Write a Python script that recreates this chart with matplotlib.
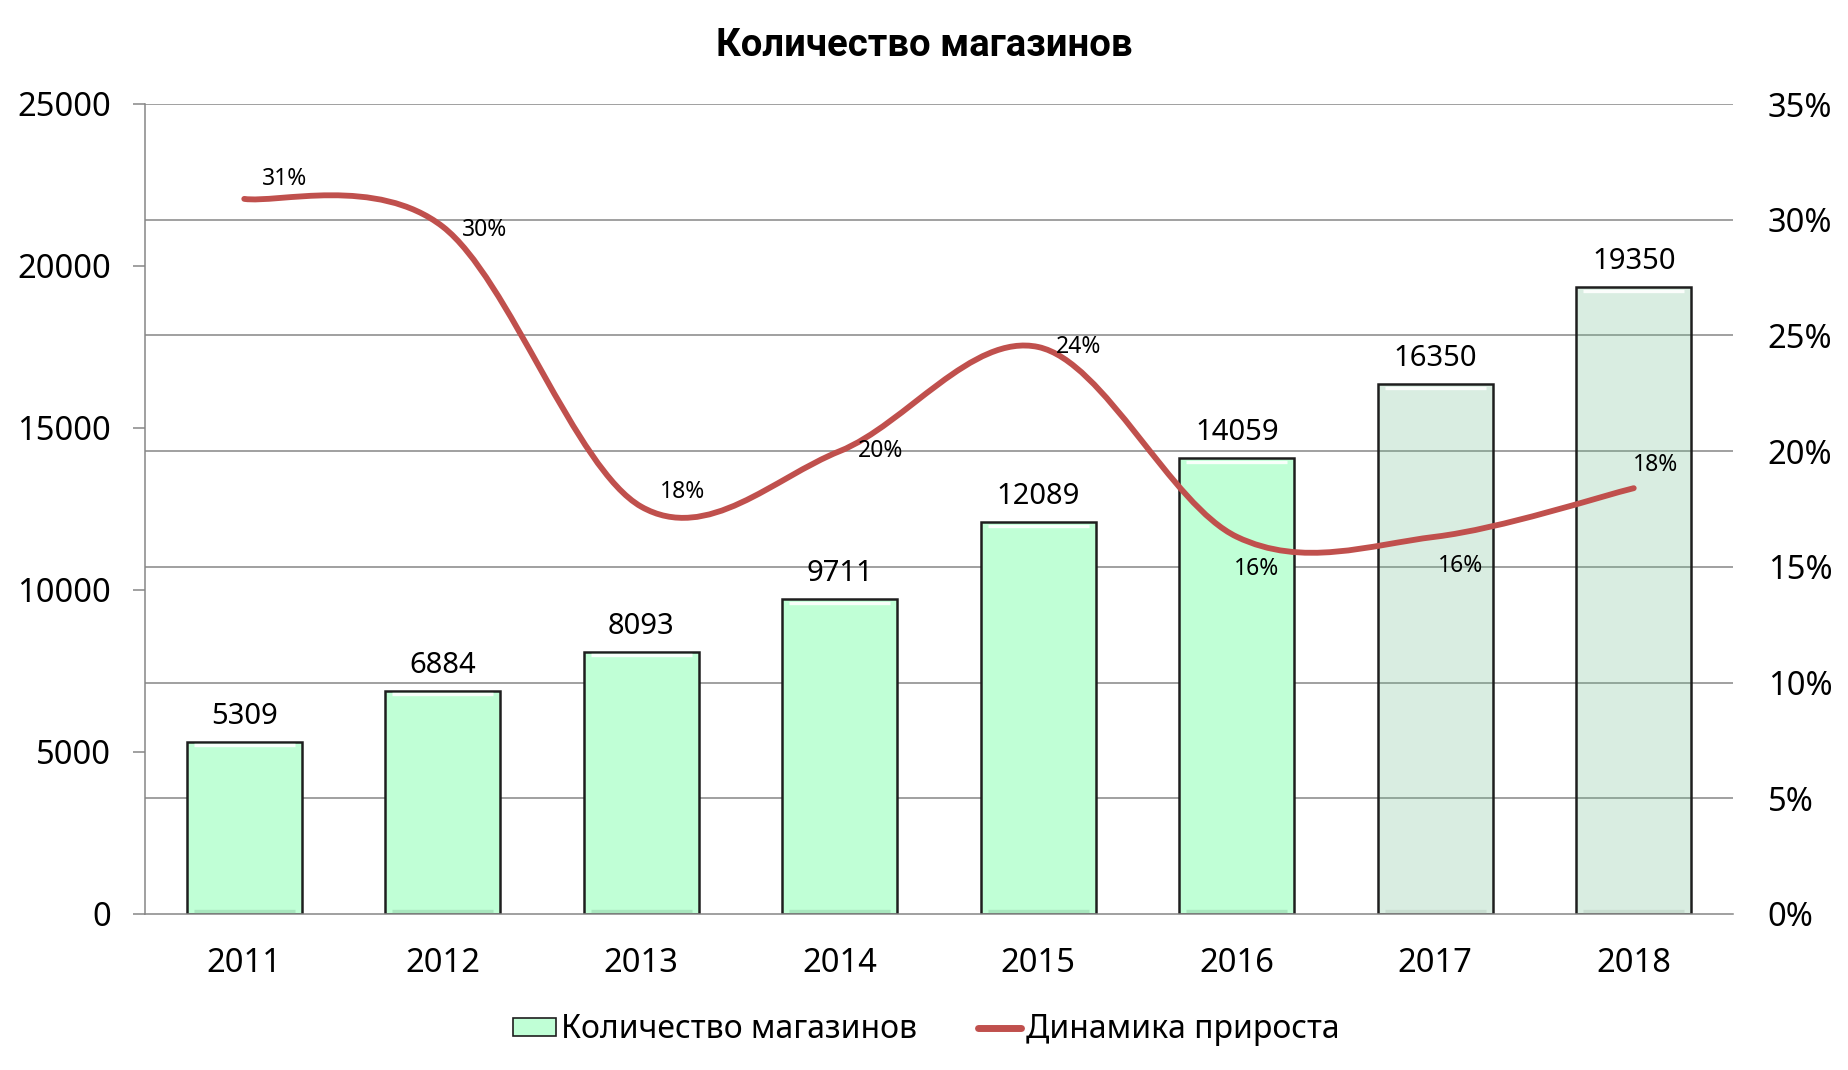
import numpy as np
import matplotlib
matplotlib.use("Agg")
import matplotlib.pyplot as plt
from matplotlib.path import Path
from matplotlib.patches import PathPatch, Patch
from matplotlib.lines import Line2D
from matplotlib.transforms import ScaledTranslation, blended_transform_factory
from matplotlib.ticker import FuncFormatter

# ---------------- data ----------------
years = ["2011", "2012", "2013", "2014", "2015", "2016", "2017", "2018"]
stores = [5309, 6884, 8093, 9711, 12089, 14059, 16350, 19350]
growth = [0.309, 0.297, 0.176, 0.200, 0.245, 0.163, 0.163, 0.184]
growth_labels = ["31%", "30%", "18%", "20%", "24%", "16%", "16%", "18%"]
is_forecast = [False, False, False, False, False, False, True, True]

title = "Количество магазинов"
legend_labels = ["Количество магазинов", "Динамика прироста"]

# label offsets (pixels: right, up) for growth labels
lab_dx = [18, 19, 19, 18, 18, -3, 3, -1]
lab_dy = [20, -3, 15, 0, 0, -32, -29, 23]

# ---------------- style ----------------
plt.rcParams["font.family"] = ["Noto Sans", "DejaVu Sans"]
GREEN = "#C0FFD6"
FORECAST = (107 / 255, 187 / 255, 139 / 255, 0.25)
EDGE = "#1e1e1e"
RED = "#C0504D"
GRID = "#868686"

W, H = 1848, 1070
fig = plt.figure(figsize=(W / 100, H / 100), dpi=100)
L, R, T, B = 145, 1733, 104, 914
ax = fig.add_axes([L / W, 1 - B / H, (R - L) / W, (B - T) / H])
ax2 = ax.twinx()

x = np.arange(len(years))
colors = [FORECAST if f else GREEN for f in is_forecast]
bars = ax.bar(x, stores, width=0.58, color=colors, edgecolor=EDGE,
              linewidth=1.8, zorder=2)

ax.set_xlim(-0.5, len(years) - 0.5)
ax.set_ylim(0, 25000)
ax2.set_ylim(0, 0.35)
ax.set_yticks(np.arange(0, 25001, 5000))
ax2.set_yticks(np.arange(0, 0.351, 0.05))
ax2.yaxis.set_major_formatter(FuncFormatter(lambda v, p: f"{round(v * 100)}%"))
ax.set_xticks(x, years)

# gridlines from secondary axis, drawn behind bars
gtrans = blended_transform_factory(ax.transAxes, ax2.transData)
for t in ax2.get_yticks()[1:]:
    ax.plot([0, 1], [t, t], color=GRID, lw=1.1, transform=gtrans, zorder=1)

# bevel-ish highlights on bars
down = ScaledTranslation(0, -3.5 / 100, fig.dpi_scale_trans)
up = ScaledTranslation(0, 3.0 / 100, fig.dpi_scale_trans)
for rect, f in zip(bars, is_forecast):
    x0 = rect.get_x()
    w = rect.get_width()
    top = rect.get_height()
    ax.plot([x0 + 0.035, x0 + w - 0.035], [top, top], color="white",
            lw=2.4, alpha=0.9, transform=ax.transData + down, zorder=2.5,
            solid_capstyle="butt")
    ax.plot([x0 + 0.035, x0 + w - 0.035], [0, 0],
            color=("#A8E6BE" if not f else "#C8DDD0"),
            lw=2.4, transform=ax.transData + up, zorder=2.5,
            solid_capstyle="butt")

for s in ["top", "right"]:
    ax.spines[s].set_visible(False)
for s in ["left", "bottom"]:
    ax.spines[s].set_color(GRID)
    ax.spines[s].set_linewidth(1.1)
for s in ax2.spines.values():
    s.set_visible(False)

ax.tick_params(axis="y", length=8.6, width=1.1, color=GRID, direction="out",
               labelsize=23.5, pad=16)
ax.tick_params(axis="x", length=0, labelsize=23.5, pad=24)
ax2.tick_params(axis="y", length=0, labelsize=23.5, pad=25)

ax.bar_label(bars, labels=[str(v) for v in stores], padding=8, fontsize=21)

# smoothed growth line (Excel-like Catmull-Rom bezier through points)
pts = np.column_stack([x, growth]).astype(float)
verts = [tuple(pts[0])]
codes = [Path.MOVETO]
n = len(pts)
for i in range(n - 1):
    p0 = pts[i - 1] if i > 0 else pts[i]
    p1 = pts[i]
    p2 = pts[i + 1]
    p3 = pts[i + 2] if i + 2 < n else pts[i + 1]
    c1 = p1 + (p2 - p0) / 6.0
    c2 = p2 - (p3 - p1) / 6.0
    verts += [tuple(c1), tuple(c2), tuple(p2)]
    codes += [Path.CURVE4] * 3
line = PathPatch(Path(verts, codes), facecolor="none", edgecolor=RED,
                 lw=4.2, capstyle="round", joinstyle="round", zorder=3)
ax2.add_patch(line)

for xi, g, lab, dx, dy in zip(x, growth, growth_labels, lab_dx, lab_dy):
    ax2.annotate(lab, (xi, g), xytext=(dx * 0.72, dy * 0.72),
                 textcoords="offset points", ha="left", va="center",
                 fontsize=16.5, zorder=4)

fig.text(0.5, 1 - 46 / H, title, ha="center", va="center",
         fontsize=27.5, fontweight="bold",
         family=["Roboto", "Open Sans", "DejaVu Sans"])

handles = [Patch(facecolor=GREEN, edgecolor=EDGE, lw=1.2),
           Line2D([], [], color=RED, lw=5, solid_capstyle="round")]
fig.legend(handles, legend_labels, loc="center",
           bbox_to_anchor=(926 / W, 1 - 1030 / H), ncol=2, frameon=False,
           fontsize=23, handlelength=1.35, handleheight=0.5,
           handletextpad=0.15, columnspacing=1.9)

fig.savefig("out.png", dpi=100)
